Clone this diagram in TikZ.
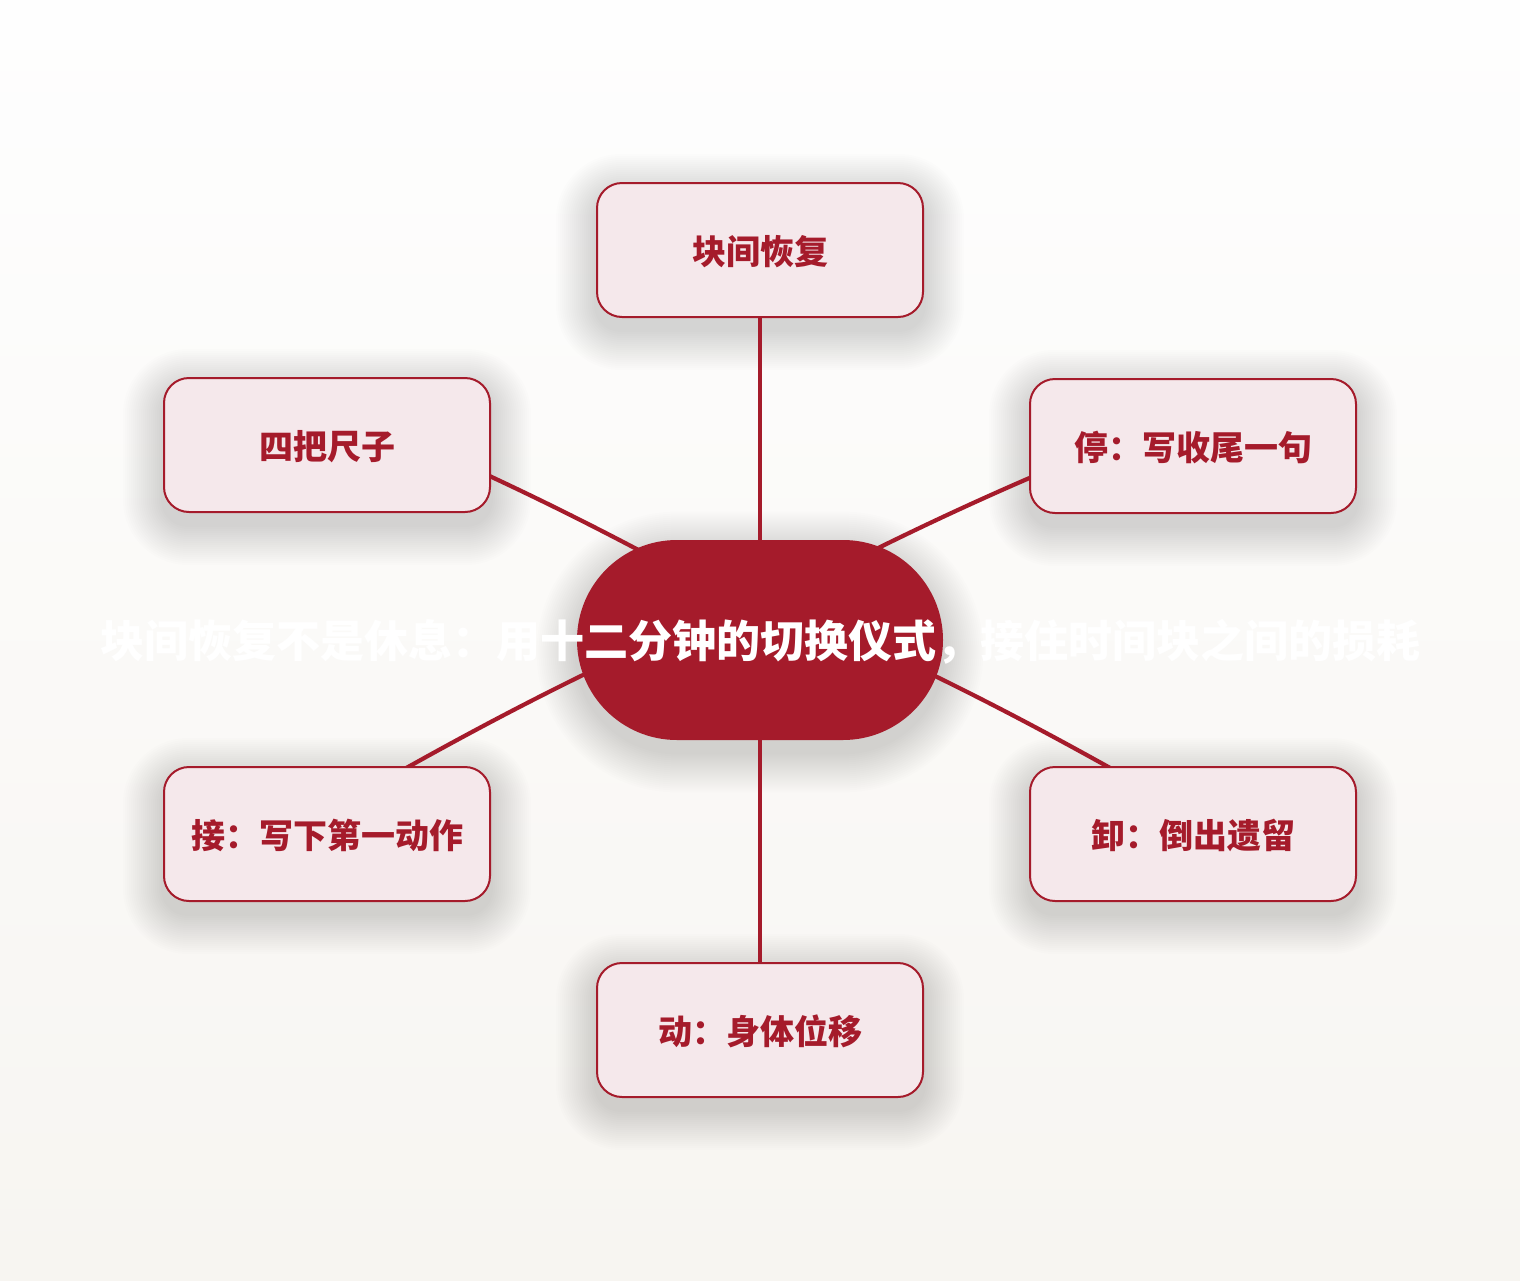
\documentclass[tikz,border=0pt]{standalone}
\usepackage{fontspec}
\newfontfamily\cjk{Noto Sans CJK SC}
\definecolor{crim}{HTML}{A51B2B}
\definecolor{boxfill}{HTML}{F5E8EB}
\definecolor{bgtop}{HTML}{FEFEFE}
\definecolor{bgbot}{HTML}{F7F5F1}
\pgfdeclarelayer{shadowlayer}
\pgfdeclarelayer{edgelayer}
\pgfsetlayers{shadowlayer,edgelayer,main}
\tikzset{
  leaf/.style={draw=crim, line width=1pt, fill=boxfill, rounded corners=12.5pt,
    minimum width=163pt, minimum height=67pt, inner sep=0pt, text=crim,
    text height=14.4pt, text depth=0pt,
    font=\cjk\bfseries\fontsize{17pt}{20pt}\selectfont},
  hub/.style={fill=crim, rounded corners=50pt, minimum width=183pt,
    minimum height=100pt, inner sep=0pt},
  hubtext/.style={text=white, inner sep=0pt, text height=17.7pt, text depth=0pt,
    font=\cjk\bfseries\fontsize{22pt}{26pt}\selectfont},
  link/.style={draw=crim, line width=2.1pt, line cap=round},
  shadowlayerfill/.style={fill=black, fill opacity=0.0075},
}
\newcommand\mysoftshadow[2]{%
  \foreach \k in {1,...,20}{%
    \pgfmathsetlengthmacro\rr{#2+\k pt}%
    \fill[shadowlayerfill, rounded corners=\rr]
      ([xshift=-\k pt, yshift=-\k pt-6pt]#1.south west) rectangle
      ([xshift=\k pt, yshift=\k pt-6pt]#1.north east);
  }}
\begin{document}
\begin{tikzpicture}[x=0.5pt,y=-0.5pt]
\useasboundingbox (0,0) rectangle (1520,1280);
% nodes
\node[hub, label={[hubtext]center:块间恢复不是休息：用十二分钟的切换仪式，接住时间块之间的损耗}] (c) at (760,640) {};
\node[leaf] (n1) at (760,250) {块间恢复};
\node[leaf] (n2) at (327,445) {四把尺子};
\node[leaf] (n3) at (1193,446) {停：写收尾一句};
\node[leaf] (n4) at (327,834) {接：写下第一动作};
\node[leaf] (n5) at (1193,834) {卸：倒出遗留};
\node[leaf] (n6) at (760,1030) {动：身体位移};
% background and shadows
\begin{pgfonlayer}{shadowlayer}
  \shade[top color=bgtop, bottom color=bgbot] (0,0) rectangle (1520,1280);
  \mysoftshadow{c}{50pt}
  \mysoftshadow{n1}{12.5pt}
  \mysoftshadow{n2}{12.5pt}
  \mysoftshadow{n3}{12.5pt}
  \mysoftshadow{n4}{12.5pt}
  \mysoftshadow{n5}{12.5pt}
  \mysoftshadow{n6}{12.5pt}
\end{pgfonlayer}
% connectors
\begin{pgfonlayer}{edgelayer}
  \draw[link] (c.center) -- (n1.center);
  \draw[link] (c.center) -- (n6.center);
  \draw[link] ([yshift=12pt]c.center) to[bend right=3] ([yshift=20.5pt]n2.center);
  \draw[link] ([yshift=16pt]c.center) to[bend left=3] ([yshift=17.5pt]n3.center);
  \draw[link] ([yshift=23.5pt]c.center) to[bend right=3] ([yshift=10.5pt]n4.center);
  \draw[link] ([yshift=22.5pt]c.center) to[bend left=3] ([yshift=9.5pt]n5.center);
\end{pgfonlayer}
\end{tikzpicture}
\end{document}
